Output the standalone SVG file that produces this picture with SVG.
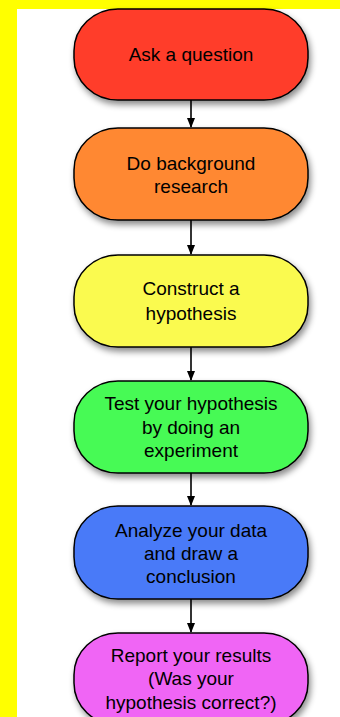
<svg xmlns="http://www.w3.org/2000/svg" width="340" height="717" viewBox="0 0 340 717">
<defs>
<filter id="sh" x="-10%" y="-10%" width="130%" height="140%">
<feDropShadow dx="2" dy="4" stdDeviation="3" flood-color="#000" flood-opacity="0.45"/>
</filter>
<marker id="ah" markerWidth="10" markerHeight="10" refX="9" refY="5" orient="auto" markerUnits="userSpaceOnUse">
<path d="M0,1 L10,5 L0,9 Z" fill="#000"/>
</marker>
</defs>
<style>
.n{stroke:#000;stroke-width:1.5;filter:url(#sh)}
.t{font-family:"Liberation Sans",Arial,sans-serif;font-size:19px;fill:#000;text-anchor:middle}
.c{stroke:#000;stroke-width:1.6;fill:none;marker-end:url(#ah)}
</style>
<rect x="0" y="0" width="340" height="717" fill="#FFFF00"/>
<rect x="17" y="9" width="323" height="708" fill="#FFFFFF"/>
<g id="connectors">
<line class="c" x1="191" y1="100" x2="191" y2="127"/>
<line class="c" x1="191" y1="220" x2="191" y2="254"/>
<line class="c" x1="191" y1="347" x2="191" y2="380"/>
<line class="c" x1="191" y1="473" x2="191" y2="505"/>
<line class="c" x1="191" y1="599" x2="191" y2="632"/>
</g>
<g id="n1">
<rect class="n" x="74" y="9" width="234" height="91" rx="44" ry="42" fill="#FF3D2B"/>
<text class="t" x="191" y="61">Ask a question</text>
</g>
<g id="n2">
<rect class="n" x="74" y="128" width="234" height="92" rx="44" ry="42" fill="#FF8833"/>
<text class="t" x="191" y="170">Do background</text>
<text class="t" x="191" y="193">research</text>
</g>
<g id="n3">
<rect class="n" x="74" y="255" width="234" height="92" rx="44" ry="42" fill="#FAFA50"/>
<text class="t" x="191" y="295">Construct a</text>
<text class="t" x="191" y="320">hypothesis</text>
</g>
<g id="n4">
<rect class="n" x="74" y="381" width="234" height="92" rx="44" ry="42" fill="#47FA54"/>
<text class="t" x="191" y="410">Test your hypothesis</text>
<text class="t" x="191" y="434">by doing an</text>
<text class="t" x="191" y="457">experiment</text>
</g>
<g id="n5">
<rect class="n" x="74" y="506" width="234" height="93" rx="44" ry="42" fill="#4A7AF8"/>
<text class="t" x="191" y="537">Analyze your data</text>
<text class="t" x="191" y="560">and draw a</text>
<text class="t" x="191" y="583">conclusion</text>
</g>
<g id="n6">
<rect class="n" x="74" y="633" width="234" height="92" rx="44" ry="42" fill="#F065F5"/>
<text class="t" x="191" y="662">Report your results</text>
<text class="t" x="191" y="685">(Was your</text>
<text class="t" x="191" y="709">hypothesis correct?)</text>
</g>
</svg>
